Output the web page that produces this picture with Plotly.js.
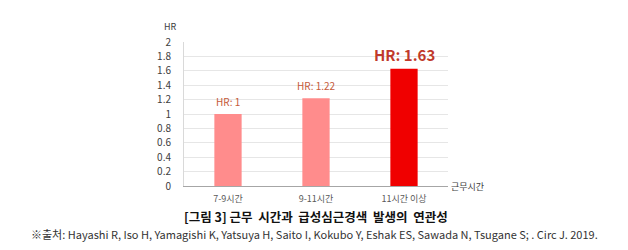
<!DOCTYPE html>
<html><head><meta charset="utf-8">
<script src="https://cdn.plot.ly/plotly-3.0.1.min.js"></script>
<style>html,body{margin:0;padding:0;background:#fff;}#c{width:628px;height:250px;}</style>
</head><body><div id="c"></div>
<script>
const categories = ['7-9시간', '9-11시간', '11시간 이상'];
const hrValues = [1, 1.22, 1.63];
const labelTexts = ['HR: 1', 'HR: 1.22', 'HR: 1.63'];
const yTicks = [0, 0.2, 0.4, 0.6, 0.8, 1, 1.2, 1.4, 1.6, 1.8, 2];
const barColors = ['#FF8C8C', '#FF8C8C', '#F00000'];
const labelSizes = [10, 10, 15];
const labelBold = [false, false, true];

const FONT = '"Noto Sans CJK KR", "Noto Sans", sans-serif';

const annotations = categories.map((c, i) => ({
  x: c, y: hrValues[i], xref: 'x', yref: 'y',
  text: labelBold[i] ? '<b>' + labelTexts[i] + '</b>' : labelTexts[i],
  showarrow: false, yanchor: 'bottom', yshift: labelBold[i] ? 2 : 3,
  font: {family: FONT, size: labelSizes[i], color: labelBold[i] ? '#C0392B' : '#C55A3A'}
}));
annotations.push(
  {xref: 'paper', yref: 'paper', x: -0.05, y: 1.0, xanchor: 'center', yanchor: 'bottom', yshift: 7,
   text: 'HR', showarrow: false, font: {family: FONT, size: 9, color: '#404040'}},
  {xref: 'paper', yref: 'paper', x: 1.0, y: 0, xanchor: 'left', yanchor: 'middle', xshift: 1,
   text: '근무시간', showarrow: false, font: {family: FONT, size: 9, color: '#404040'}},
  {xref: 'paper', yref: 'paper', x: 0.5, y: 0, xanchor: 'center', yanchor: 'middle', yshift: -30,
   text: '<b>[그림 3] 근무  시간과  급성심근경색  발생의  연관성</b>', showarrow: false,
   font: {family: FONT, size: 12.5, color: '#111'}},
  {xref: 'paper', yref: 'paper', x: 0.5, y: 0, xanchor: 'center', yanchor: 'middle', yshift: -48,
   xshift: -2,
   text: '※출처: Hayashi R, Iso H, Yamagishi K, Yatsuya H, Saito I, Kokubo Y, Eshak ES, Sawada N, Tsugane S; . Circ J. 2019.',
   showarrow: false, font: {family: FONT, size: 11, color: '#333'}}
);

Plotly.newPlot('c', [{
  type: 'bar', x: categories, y: hrValues,
  marker: {color: barColors}, width: 0.31, hoverinfo: 'none'
}], {
  width: 628, height: 250,
  margin: {l: 184, r: 180, t: 42, b: 64, pad: 0},
  paper_bgcolor: '#fff', plot_bgcolor: '#fff',
  showlegend: false,
  font: {family: FONT, color: '#404040'},
  xaxis: {
    showgrid: false, showline: true, linecolor: '#A6A6A6', linewidth: 1,
    ticks: '', tickfont: {family: FONT, size: 9, color: '#595959'}, ticklabelstandoff: 4
  },
  yaxis: {
    range: [0, 2], tickvals: yTicks, ticktext: yTicks.map(String),
    showgrid: true, gridcolor: '#E6E6E6', gridwidth: 1,
    showline: true, linecolor: '#D9D9D9', zeroline: false,
    ticks: '', tickfont: {family: FONT, size: 10, color: '#404040'}, ticklabelstandoff: 10
  },
  annotations: annotations
}, {staticPlot: true});
</script></body></html>
